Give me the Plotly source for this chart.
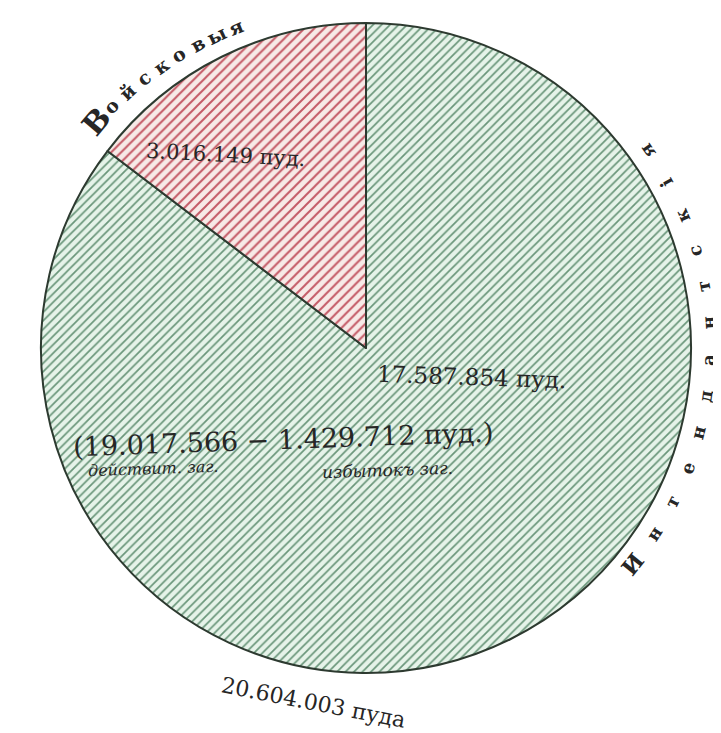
import math
import plotly.graph_objects as go

# data (drawn clockwise from 12 o'clock)
labels = ["Интендантскія", "Войсковыя"]
values = [17587854, 3016149]
value_texts = ["17.587.854 пуд.", "3.016.149 пуд."]
detail_text = "(19.017.566 − 1.429.712 пуд.)"
detail_sub = ["действит. заг.", "избытокъ заг."]
total_text = "20.604.003 пуда"

W, H = 721, 733
OFF = 8  # page body margin
CX, CY, R = 366, 348, 325
FONT = "DejaVu Serif"
INK = "#262626"
BG = ["#e6f3e9", "#f7eae7"]
LINES = ["#6a967a", "#c45a66"]


def px(x, y):
    return (x - OFF) / W, 1 - (y - OFF) / H


x0, y1 = px(CX - R, CY - R)
x1, y0 = px(CX + R, CY + R)

fig = go.Figure(go.Pie(
    labels=labels,
    values=values,
    sort=False,
    direction="clockwise",
    rotation=0,
    textinfo="none",
    hoverinfo="label+value",
    showlegend=False,
    marker=dict(
        colors=BG,
        line=dict(color="#2d3a30", width=2),
        pattern=dict(
            shape=["/", "/"],
            fgcolor=LINES,
            bgcolor=BG,
            size=[6, 7],
            solidity=0.28,
        ),
    ),
    domain=dict(x=[x0, x1], y=[y0, y1]),
))

ann = []


def add(text, x, y, size, angle=0):
    xp, yp = px(x, y)
    ann.append(dict(text=text, x=xp, y=yp, xref="paper", yref="paper",
                    xanchor="center", yanchor="middle",
                    showarrow=False, textangle=angle,
                    font=dict(family=FONT, size=size, color=INK)))


# curved name around the red slice (left of top, reads clockwise)
word = labels[1]
a0, a1 = 50, 22
for i, ch in enumerate(word):
    a = a0 + (a1 - a0) * i / (len(word) - 1)
    rr = 352 - 6 * i / (len(word) - 1)
    t = math.radians(a)
    add("<b>" + ch + "</b>", CX - rr * math.sin(t), CY - rr * math.cos(t),
        30 if i == 0 else 19, -a)

# curved name down the right side (reads bottom to top)
word = labels[0]
a0, a1, rr = 129, 55, 343
for i, ch in enumerate(word):
    a = a0 + (a1 - a0) * i / (len(word) - 1)
    t = math.radians(a)
    add("<b>" + ch + "</b>", CX + rr * math.sin(t), CY - rr * math.cos(t),
        22 if i == 0 else 18, a - 180)

add(value_texts[1], 226, 155, 21, 3)
add(value_texts[0], 471, 377, 23, 2)
add(detail_text, 283, 440, 27, -2)
add("<i>" + detail_sub[0] + "</i>", 153, 468, 16, -2)
add("<i>" + detail_sub[1] + "</i>", 387, 470, 17, -2)
add(total_text, 313, 702, 22, 11)

fig.update_layout(
    width=W, height=H,
    margin=dict(l=0, r=0, t=0, b=0),
    paper_bgcolor="white",
    plot_bgcolor="white",
    annotations=ann,
)

fig.write_html("out.html")
